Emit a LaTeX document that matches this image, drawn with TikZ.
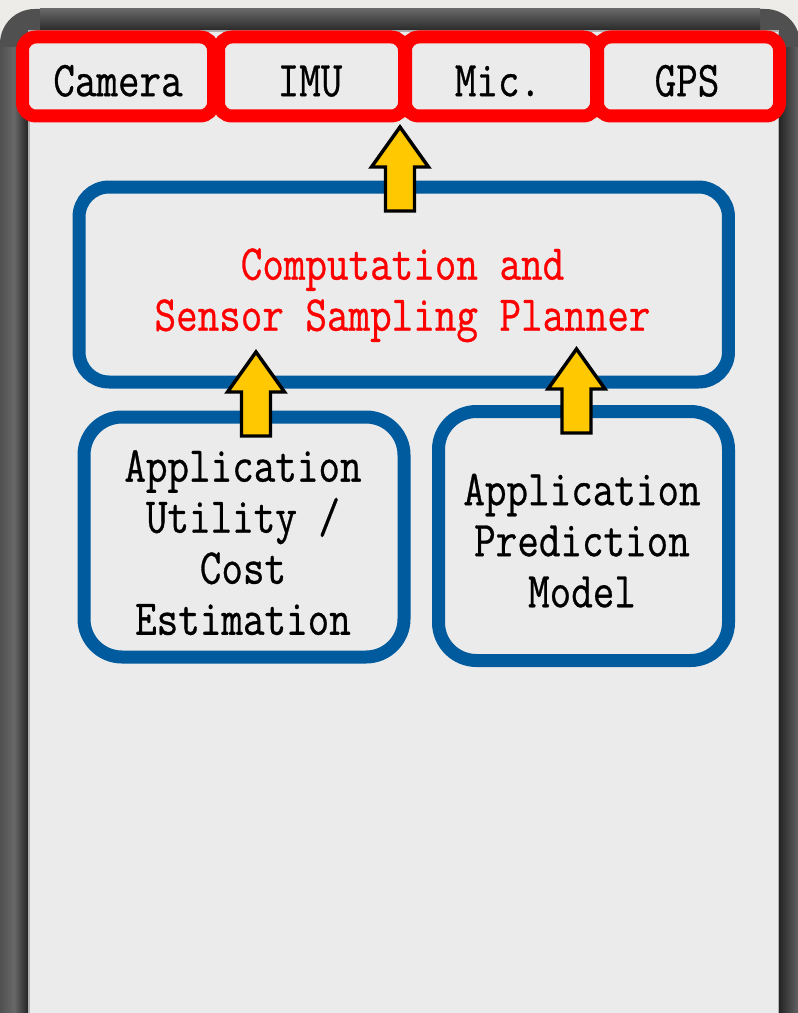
\documentclass[tikz,border=0pt]{standalone}
\usepackage{fontspec}
\usepackage{graphicx}
\newfontfamily\mymono{Latin Modern Mono}[FakeBold=0.7]
\definecolor{bgc}{HTML}{EEECE8}
\definecolor{framec}{HTML}{505050}
\definecolor{frameB}{HTML}{686868}
\definecolor{framedark}{HTML}{242424}
\definecolor{screenc}{HTML}{EBEBEB}
\definecolor{sensred}{HTML}{FF0000}
\definecolor{boxblue}{HTML}{005A9E}
\definecolor{arrowyel}{HTML}{FFC800}
\newcommand{\mytxt}[1]{\scalebox{1}[1.2]{\begin{tabular}{@{}c@{}}#1\end{tabular}}}
\begin{document}
\begin{tikzpicture}[x=0.75pt,y=-0.75pt,
  every node/.style={inner sep=0pt, outer sep=0pt},
  sensor/.style={draw=sensred, line width=9.75pt, rounded corners=10pt, fill=screenc, minimum height=59.25pt},
  module/.style={draw=boxblue, line width=9.75pt, fill=screenc},
  lbl/.style={font=\fontsize{31.4}{31.9}\selectfont\mymono, text=black},
  planlbl/.style={lbl, text=sensred},
  blockarrow/.style={draw=black, line width=2.6pt, fill=arrowyel, line join=miter},
]
\useasboundingbox (0,0) rectangle (798,1013);
\clip (0,0) rectangle (798,1013);
% background and phone frame
\fill[bgc] (0,0) rectangle (798,1013);
\fill[framec, rounded corners=26pt] (0,9) rectangle (800,1100);
\shade[left color=framec, right color=framedark, middle color=frameB] (0,48) rectangle (28,1013);
\shade[left color=framedark, right color=frameB] (779,48) rectangle (800,1013);
\shade[top color=frameB, bottom color=framedark] (40,9) rectangle (760,32);
\fill[screenc, draw=gray!60, line width=1.2pt] (29,31) rectangle (778.5,1030);

% sensors
\node[sensor, minimum width=143.25pt] (cam) at (118,76.5) {};
\node[sensor, minimum width=139.5pt] (imu) at (311.5,76.5) {};
\node[sensor, minimum width=143.25pt] (mic) at (501,76.5) {};
\node[sensor, minimum width=136.5pt] (gps) at (688.5,76.5) {};
\node[lbl] (camt) at (118,86) {\mytxt{Camera}};
\node[lbl] (imut) at (310,86) {\mytxt{IMU}};
\node[lbl] (mict) at (498,86) {\mytxt{Mic.}};
\node[lbl] (gpst) at (687,86) {\mytxt{GPS}};

% modules
\node[module, rounded corners=22.5pt, minimum width=487.1pt, minimum height=146.25pt] (plan) at (403.75,284.5) {};
\node[module, rounded corners=28.5pt, minimum width=240pt, minimum height=180pt] (util) at (244,537) {};
\node[module, rounded corners=28.5pt, minimum width=217.5pt, minimum height=186.75pt] (pred) at (583.5,536) {};
\node[planlbl] (plant) at (402.5,295) {\mytxt{Computation and\\Sensor Sampling Planner}};
\node[lbl] (utilt) at (243,548) {\mytxt{Application\\Utility /\\Cost\\Estimation}};
\node[lbl] (predt) at (582,546) {\mytxt{Application\\Prediction\\Model}};

% block arrows
\coordinate (a1) at (400,127);
\coordinate (a2) at (256,352);
\coordinate (a3) at (576.5,349);
\foreach \c in {a1,a2,a3}{
  \draw[blockarrow] (\c) -- ++(28.5,40) -- ++(-14,0) -- ++(0,44) -- ++(-29,0) -- ++(0,-44) -- ++(-14,0) -- cycle;
}
\end{tikzpicture}
\end{document}
